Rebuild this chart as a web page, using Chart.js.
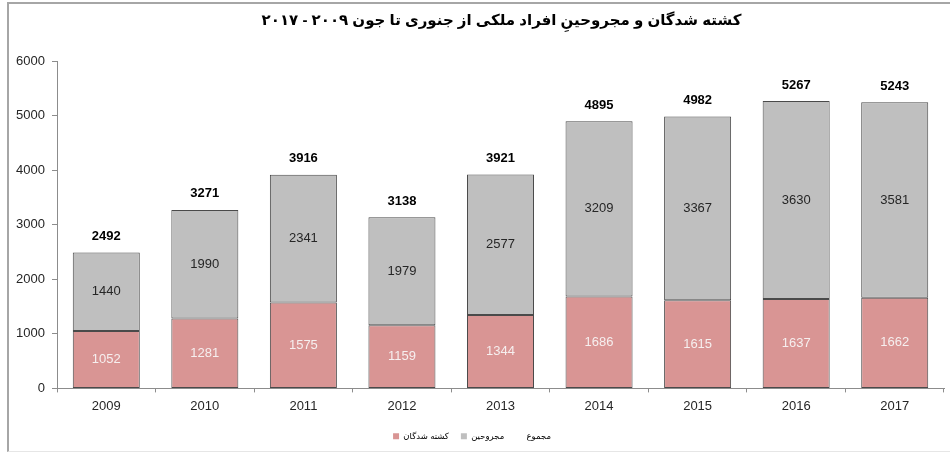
<!DOCTYPE html>
<html>
<head>
<meta charset="utf-8">
<script src="https://cdn.jsdelivr.net/npm/chart.js@4"></script>
<style>
    html, body { margin: 0; padding: 0; background: #fff; }
    #wrap { position: relative; width: 950px; height: 452px; }
    #frame {
        position: absolute; left: 7px; top: 2px; width: 950px; height: 447px;
        border-left: 2px solid #a6a6a6; border-top: 2px solid #a6a6a6; border-bottom: 1px solid #e6e6e6;
    }
    canvas { position: absolute; left: 0; top: 0; }
</style>
</head>
<body>
<div id="wrap">
    <div id="frame"></div>
    <canvas id="casualties" width="950" height="452"></canvas>
</div>
<script>
const years = ['2009', '2010', '2011', '2012', '2013', '2014', '2015', '2016', '2017'];
const killed = [1052, 1281, 1575, 1159, 1344, 1686, 1615, 1637, 1662];
const injured = [1440, 1990, 2341, 1979, 2577, 3209, 3367, 3630, 3581];
const totals = [2492, 3271, 3916, 3138, 3921, 4895, 4982, 5267, 5243];

const chartTitle = 'کشته شدگان و مجروحینِ افراد ملکی از جنوری تا جون ۲۰۰۹ - ۲۰۱۷';
const labelKilled = 'کشته شدگان';
const labelInjured = 'مجروحین';
const labelTotal = 'مجموع';

const fontFamily = '"Liberation Sans", Arial, "DejaVu Sans", sans-serif';

// title centred over the plot area, like the original
const titlePlugin = {
    id: 'plotTitle',
    afterDraw(chart) {
        const ctx = chart.ctx;
        const area = chart.chartArea;
        ctx.save();
        ctx.font = 'bold 15px ' + fontFamily;
        ctx.fillStyle = '#000';
        ctx.textAlign = 'center';
        ctx.textBaseline = 'middle';
        ctx.direction = 'rtl';
        ctx.fillText(chartTitle, (area.left + area.right) / 2 + 1, 21);
        ctx.restore();
    }
};

// numbers inside the bars and the totals above them
const valueLabels = {
    id: 'valueLabels',
    afterDatasetsDraw(chart) {
        const ctx = chart.ctx;
        ctx.save();
        ctx.textAlign = 'center';
        ctx.textBaseline = 'middle';

        const killedMeta = chart.getDatasetMeta(0);
        const injuredMeta = chart.getDatasetMeta(1);

        ctx.font = '13px ' + fontFamily;
        killedMeta.data.forEach((bar, i) => {
            ctx.fillStyle = '#f6efef';
            ctx.fillText(String(killed[i]), bar.x, (bar.y + bar.base) / 2);
        });
        injuredMeta.data.forEach((bar, i) => {
            ctx.fillStyle = '#262626';
            ctx.fillText(String(injured[i]), bar.x, (bar.y + bar.base) / 2);
        });

        ctx.font = 'bold 13px ' + fontFamily;
        ctx.fillStyle = '#000';
        const yScale = chart.scales.y;
        injuredMeta.data.forEach((bar, i) => {
            ctx.fillText(String(totals[i]), bar.x, yScale.getPixelForValue(totals[i]) - 16);
        });
        ctx.restore();
    }
};

new Chart(document.getElementById('casualties'), {
    type: 'bar',
    data: {
        labels: years,
        datasets: [
            {
                label: labelKilled,
                data: killed,
                backgroundColor: '#d99594',
                borderColor: '#4a4a4a',
                borderWidth: 1,
                borderSkipped: false,
                stack: 'a'
            },
            {
                label: labelInjured,
                data: injured,
                backgroundColor: '#bfbfbf',
                borderColor: '#4a4a4a',
                borderWidth: 1,
                borderSkipped: false,
                stack: 'a'
            },
            {
                type: 'line',
                label: labelTotal,
                data: totals,
                showLine: false,
                pointRadius: 0,
                pointHoverRadius: 0,
                backgroundColor: 'rgba(0,0,0,0)',
                borderColor: 'rgba(0,0,0,0)'
            }
        ]
    },
    options: {
        responsive: false,
        animation: false,
        devicePixelRatio: 1,
        categoryPercentage: 1,
        barPercentage: 0.68,
        layout: {
            padding: { left: 0, right: 6, top: 61, bottom: 1.5 }
        },
        plugins: {
            title: { display: false },
            tooltip: { enabled: false },
            legend: {
                position: 'bottom',
                labels: {
                    boxWidth: 6,
                    boxHeight: 6,
                    padding: 12,
                    color: '#404040',
                    font: { size: 8.5, family: fontFamily },
                    generateLabels(chart) {
                        return chart.data.datasets.map((ds, i) => ({
                            text: ds.label,
                            fillStyle: i === 2 ? 'rgba(0,0,0,0)' : ds.backgroundColor,
                            strokeStyle: 'rgba(0,0,0,0)',
                            lineWidth: 0,
                            hidden: false,
                            datasetIndex: i
                        }));
                    }
                }
            }
        },
        scales: {
            x: {
                stacked: true,
                grid: {
                    offset: true,
                    drawOnChartArea: false,
                    color: '#8c8c8c',
                    tickLength: 4
                },
                border: { color: '#8c8c8c' },
                ticks: {
                    color: '#262626',
                    padding: 6,
                    font: { size: 13, family: fontFamily }
                }
            },
            y: {
                stacked: true,
                min: 0,
                max: 6000,
                afterFit(scale) { scale.width = 57; },
                grid: {
                    drawOnChartArea: false,
                    color: '#8c8c8c',
                    tickLength: 5
                },
                border: { color: '#8c8c8c' },
                ticks: {
                    stepSize: 1000,
                    color: '#262626',
                    padding: 7,
                    font: { size: 13, family: fontFamily },
                    callback: (value) => String(value)
                }
            }
        }
    },
    plugins: [titlePlugin, valueLabels]
});
</script>
</body>
</html>
